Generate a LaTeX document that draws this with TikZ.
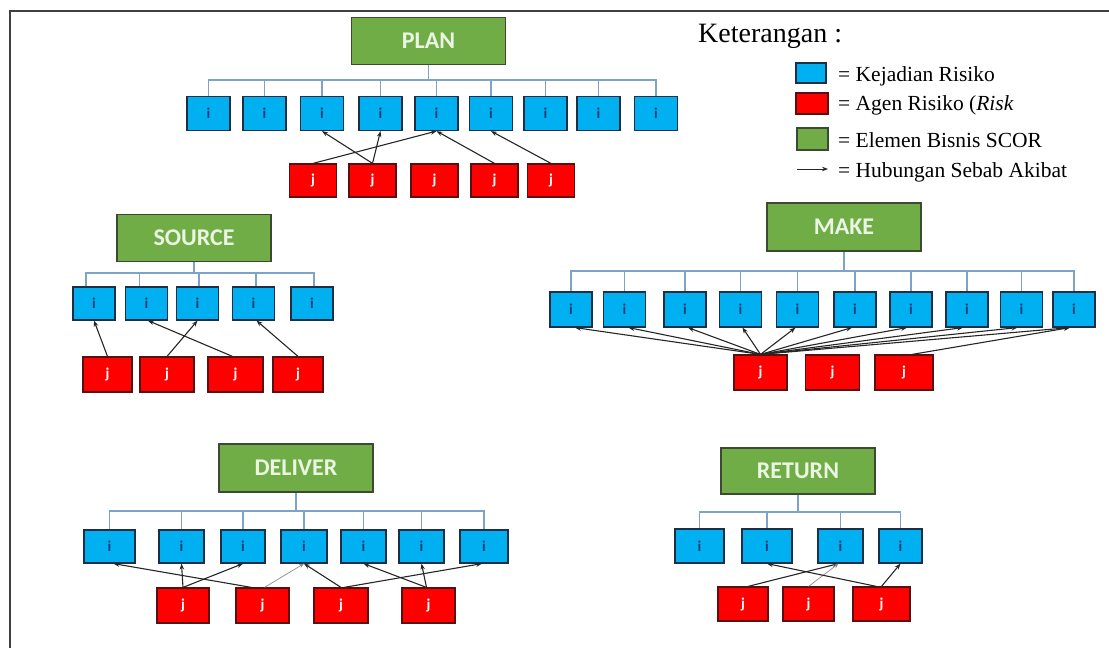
\documentclass[tikz,border=0pt]{standalone}
\usepackage{fontspec}
\setmainfont{Liberation Serif}
\newfontfamily\carl{Carlito}
\usetikzlibrary{arrows.meta}
\definecolor{bfill}{HTML}{00B0F0}
\definecolor{bline}{HTML}{1E2E44}
\definecolor{rfill}{HTML}{FF0000}
\definecolor{rline}{HTML}{5A1010}
\definecolor{gfill}{HTML}{70AD47}
\definecolor{gline}{HTML}{3C4A34}
\definecolor{gtext}{HTML}{EAF6E2}
\definecolor{itext}{HTML}{1F3C7A}
\definecolor{buscol}{HTML}{7FA3C8}
\definecolor{frame}{HTML}{404040}
\tikzset{
  gbox/.style={draw=gline, fill=gfill, line width=1.3pt, inner sep=0pt, minimum width=154pt, minimum height=47pt, text=gtext, font=\carl\bfseries\fontsize{24}{24}\selectfont},
  ibox/.style={draw=bline, fill=bfill, line width=1.2pt, inner sep=0pt, minimum width=43pt, minimum height=34pt, text=itext, font=\carl\bfseries\fontsize{15}{15}\selectfont},
  jbox/.style={draw=rline, fill=rfill, line width=1.2pt, inner sep=0pt, minimum width=50pt, minimum height=34pt, text=white, font=\carl\bfseries\fontsize{15}{15}\selectfont},
  bus/.style={draw=buscol, line width=1.3pt},
  cause/.style={draw=black!85, line width=1.1pt, -{Stealth[length=6pt,width=4.5pt]}},
  faint/.style={draw=black!45, line width=0.7pt, -{Stealth[length=5pt,width=4pt]}},
  legtext/.style={anchor=base west, inner sep=0pt, font=\fontsize{21.5}{22}\selectfont},
}
\begin{document}
\begin{tikzpicture}[x=1pt,y=-1pt]
\useasboundingbox (0,0) rectangle (1109,648);
% frame
\coordinate (fa) at (10,648);
\coordinate (fb) at (10,11);
\coordinate (fc) at (1109,11);
\draw[frame, line width=2pt] (fa) -- (fb) -- (fc);

% ===== PLAN =====
\node[gbox] (P) at (428.5,41) {PLAN};
\foreach \n/\x in {1/208.5,2/264.5,3/322,4/380.5,5/436.5,6/491,7/545.5,8/598.5,9/656}
  \node[ibox] (p\n) at (\x,113.5) {i};
\foreach \n/\x in {1/313,2/372.5,3/434.5,4/494.5,5/551}
  \node[jbox, minimum width=47pt, minimum height=33pt] (pr\n) at (\x,180.5) {j};
\coordinate (busP) at (428.5,80);
\draw[bus] (P.south) -- (busP);
\draw[bus] (p1.north) |- (busP) -| (p9.north);
\foreach \n in {2,...,8} \draw[bus] (p\n.north) -- (p\n.north |- busP);
\draw[cause] (pr1.north) -- (p5.south);
\draw[cause] (pr2.north) -- (p3.south);
\draw[cause] (pr2.north) -- (p4.south);
\draw[cause] (pr4.north) -- (p5.south);
\draw[cause] (pr5.north) -- (p6.south);

% ===== Legend =====
\node[anchor=base west, inner sep=0pt, font=\fontsize{28}{28}\selectfont] (kt) at (698,42) {Keterangan :};
\node[draw=bline, fill=bfill, line width=1.2pt, minimum width=30pt, minimum height=20pt, inner sep=0pt] (lb) at (811,73) {};
\node[draw=rline, fill=rfill, line width=1.2pt, minimum width=32pt, minimum height=21pt, inner sep=0pt] (lr) at (812,103.5) {};
\node[draw=gline, fill=gfill, line width=1.2pt, minimum width=31pt, minimum height=22pt, inner sep=0pt] (lg) at (812.5,139) {};
\node[legtext] (tb) at (838,81) {= Kejadian Risiko};
\node[legtext] (tr) at (838,110) {= Agen Risiko (\textit{Risk}};
\node[legtext] (tg) at (838,147) {= Elemen Bisnis SCOR};
\node[legtext] (ta) at (838,177) {= Hubungan Sebab Akibat};
\coordinate (la1) at (797,169);
\coordinate (la2) at (828,169);
\draw[cause, line width=0.9pt] (la1) -- (la2);

% ===== SOURCE =====
\node[gbox] (S) at (194,238) {SOURCE};
\foreach \n/\x in {1/94,2/146.5,3/197.5,4/253.5,5/312}
  \node[ibox, minimum width=42pt, minimum height=33pt] (s\n) at (\x,303.5) {i};
\node[jbox, minimum width=49pt, minimum height=35pt] (sr1) at (107.5,374.5) {j};
\node[jbox, minimum width=54pt, minimum height=35pt] (sr2) at (167,374.5) {j};
\node[jbox, minimum width=55pt, minimum height=35pt] (sr3) at (235.5,374.5) {j};
\node[jbox, minimum width=50pt, minimum height=35pt] (sr4) at (298,374.5) {j};
\coordinate (busS) at (194,273);
\draw[bus] (S.south) -- (busS);
\draw[bus] ([xshift=-8pt]s1.north) |- (busS) -| ([xshift=2pt]s5.north);
\draw[bus] ([xshift=-7pt]s2.north) -- ([xshift=-7pt]s2.north |- busS);
\draw[bus] ([xshift=1.5pt]s3.north) -- ([xshift=1.5pt]s3.north |- busS);
\draw[bus] ([xshift=2.5pt]s4.north) -- ([xshift=2.5pt]s4.north |- busS);
\draw[cause] (sr1.north) -- (s1.south);
\draw[cause] (sr2.north) -- (s3.south);
\draw[cause] ([xshift=-3pt]sr3.north) -- ([xshift=1.5pt]s2.south);
\draw[cause] (sr4.north) -- ([xshift=3pt]s4.south);

% ===== MAKE =====
\node[gbox, minimum height=48pt] (M) at (844,227) {MAKE};
\foreach \n/\x in {1/571,2/624.5,3/685,4/740.5,5/797.5,6/855,7/911,8/967,9/1021.5,10/1074}
  \node[ibox, minimum width=42pt, minimum height=35pt] (m\n) at (\x,309.5) {i};
\node[jbox, minimum width=53pt, minimum height=35pt] (mr1) at (760.5,372.5) {j};
\node[jbox, minimum width=54pt, minimum height=35pt] (mr2) at (832.5,372.5) {j};
\node[jbox, minimum width=58pt, minimum height=35pt] (mr3) at (904,372.5) {j};
\coordinate (busM) at (844,271);
\draw[bus] (M.south) -- (busM);
\draw[bus] (m1.north) |- (busM) -| (m10.north);
\foreach \n in {2,...,9} \draw[bus] (m\n.north) -- (m\n.north |- busM);
\foreach \n/\s in {1/4,2/4,3/3,4/2,5/-2,6/-3,7/-4,8/-4,9/-4,10/-4}
  \draw[cause] (mr1.north) -- ([xshift=\s pt]m\n.south);
\draw[cause] ([xshift=8pt]mr3.north) -- ([xshift=-4pt]m10.south);

% ===== DELIVER =====
\node[gbox, minimum height=48pt] (D) at (296,468) {DELIVER};
\node[ibox, minimum width=51pt, minimum height=33pt] (d1) at (109.5,546.5) {i};
\node[ibox, minimum width=45pt, minimum height=33pt] (d2) at (181.5,546.5) {i};
\node[ibox, minimum width=44pt, minimum height=33pt] (d3) at (243,546.5) {i};
\node[ibox, minimum width=46pt, minimum height=33pt] (d4) at (304,546.5) {i};
\node[ibox, minimum width=45pt, minimum height=33pt] (d5) at (363.5,546.5) {i};
\node[ibox, minimum width=45pt, minimum height=33pt] (d6) at (421.5,546.5) {i};
\node[ibox, minimum width=48pt, minimum height=33pt] (d7) at (484,546.5) {i};
\node[jbox, minimum width=52pt, minimum height=35pt] (dr1) at (183,605.5) {j};
\node[jbox, minimum width=53pt, minimum height=35pt] (dr2) at (262.5,605.5) {j};
\node[jbox, minimum width=54pt, minimum height=35pt] (dr3) at (341,605.5) {j};
\node[jbox, minimum width=53pt, minimum height=35pt] (dr4) at (428.5,605.5) {j};
\coordinate (busD) at (296,511);
\draw[bus] (D.south) -- (busD);
\draw[bus] (d1.north) |- (busD) -| (d7.north);
\foreach \n in {2,...,6} \draw[bus] (d\n.north) -- (d\n.north |- busD);
\draw[cause] (dr1.north) -- (d2.south);
\draw[cause] (dr1.north) -- (d3.south);
\draw[cause] ([xshift=-11pt]dr2.north) -- ([xshift=4pt]d1.south);
\draw[faint] ([xshift=2pt]dr2.north) -- (d4.south);
\draw[cause] (dr3.north) -- (d4.south);
\draw[cause] ([xshift=3pt]dr3.north) -- ([xshift=-2pt]d7.south);
\draw[cause] ([xshift=-2pt]dr4.north) -- (d5.south);
\draw[cause] ([xshift=-2pt]dr4.north) -- (d6.south);

% ===== RETURN =====
\node[gbox, minimum height=46pt] (R) at (798,471) {RETURN};
\node[ibox, minimum width=49pt, minimum height=34pt] (t1) at (699.5,546) {i};
\node[ibox, minimum width=50pt, minimum height=34pt] (t2) at (767,546) {i};
\node[ibox, minimum width=45pt, minimum height=34pt] (t3) at (840.5,546) {i};
\node[ibox, minimum width=43pt, minimum height=34pt] (t4) at (900.5,546) {i};
\node[jbox, minimum width=50pt, minimum height=34pt] (tr1) at (743,604) {j};
\node[jbox, minimum width=51pt, minimum height=34pt] (tr2) at (808.5,604) {j};
\node[jbox, minimum width=57pt, minimum height=34pt] (tr3) at (881.5,604) {j};
\coordinate (busR) at (798,512);
\draw[bus] (R.south) -- (busR);
\draw[bus] (t1.north) |- (busR) -| (t4.north);
\foreach \n in {2,3} \draw[bus] (t\n.north) -- (t\n.north |- busR);
\draw[cause] ([xshift=5pt]tr1.north) -- ([xshift=-2pt]t3.south);
\draw[faint] (tr2.north) -- ([xshift=-2pt]t3.south);
\draw[cause] ([xshift=-5pt]tr3.north) -- (t2.south);
\draw[cause] (tr3.north) -- (t4.south);
\end{tikzpicture}
\end{document}
